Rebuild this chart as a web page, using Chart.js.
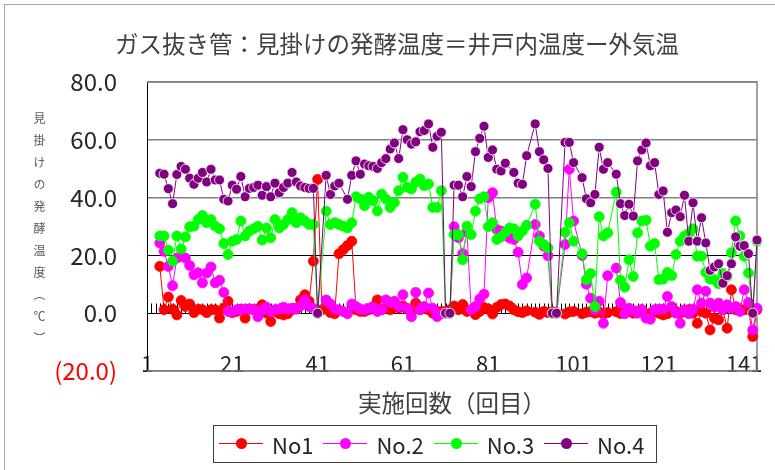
<!DOCTYPE html>
<html>
<head>
<meta charset="utf-8">
<script src="https://cdn.jsdelivr.net/npm/chart.js@4.4.0/dist/chart.umd.min.js"></script>
<style>
  body { margin: 0; background: #fff; }
  #wrap { position: relative; width: 775px; height: 470px; overflow: hidden; }
  #frame { position: absolute; left: 4px; top: 4px; width: 900px; height: 600px; border: 1px solid #a6a6a6; }
  #ytitle { position: absolute; left: 33px; top: 112px; writing-mode: vertical-rl; font: 12px "Noto Sans CJK JP"; line-height: 12px; letter-spacing: 10px; color: #595959; }
  #legend { position: absolute; left: 213px; top: 425px; width: 444px; height: 38px; box-sizing: border-box; border: 1px solid #404040; display: flex; align-items: center; padding-left: 5px; font: 22px "Noto Sans CJK JP"; color: #262626; }
  #legend .item { display: flex; align-items: center; margin-right: 10px; }
  #legend .mark { position: relative; width: 44px; height: 12px; margin-right: 9px; }
  #legend .ln { position: absolute; left: 0; right: 0; top: 5px; height: 1px; }
  #legend .dot { position: absolute; left: 17px; top: 0; width: 11px; height: 11px; border-radius: 50%; }
</style>
</head>
<body>
<div id="wrap">
  <div id="frame"></div>
  <canvas id="chart" width="775" height="470" style="position:absolute;left:0;top:0;width:775px;height:470px"></canvas>
  <div id="ytitle">見掛けの発酵温度（℃）</div>
  <div id="legend"></div>
</div>
<script>
// 実施回数 1..144
const labels = Array.from({ length: 144 }, (_, i) => String(i + 1));
const shownTicks = ['1', '21', '41', '61', '81', '101', '121', '141'];

const no1 = [
  null, null, null, 16.2, 1.2, 5.6, 1.4, -0.6, 4.4, 2.3,
  3.2, 0.2, 1.4, 1.2, 0.2, 1.2, 1.2, -1.7, 1.7, 4.1,
  0.2, 0.6, 1.4, -1.7, 1.4, 1.2, 1.4, 2.9, 0.0, -2.9,
  0.6, -0.2, -0.6, -0.2, 1.2, 1.7, 4.6, 6.4, 4.1, 18.0,
  46.3, 1.2, 1.4, 0.2, -0.2, 20.6, 22.0, 23.4, 24.9, 1.2,
  0.6, 0.6, 1.2, 2.3, 4.6, 1.2, 1.7, 1.2, 2.3, 1.7,
  2.5, 1.4, 0.6, 3.5, 1.2, 1.7, 1.2, 0.0, 0.6, 0.6,
  0.6, 1.2, 2.5, 1.2, 3.0, 0.6, 1.2, -0.5, 0.6, 2.0,
  1.5, -0.3, 2.0, 3.0, 3.2, 2.5, 1.2, 0.5, 0.2, 0.8,
  null, 0.3, -0.4, 0.6, 0.2, 0.5, 0.1, null, -0.3, 0.4,
  0.6, null, -0.2, 0.3, 0.5, 0.0, 0.4, -0.3, 0.2, null,
  0.5, -0.1, 0.3, 0.6, 0.0, 0.6, 1.2, -0.6, 0.0, 0.6,
  0.0, -0.6, -0.2, 0.6, 0.6, 0.0, 0.6, 1.2, 0.0, -3.5,
  0.6, 0.0, -5.8, -1.7, -2.3, 1.2, -5.2, 8.1, 1.2, 1.2,
  1.2, 1.2, -8.1, 1.2
];
const no2 = [
  null, null, null, 24.3, 21.4, 16.2, 9.5, 19.1, 19.7, 19.1,
  16.5, 13.3, 14.0, 10.5, 13.9, 16.0, 10.5, 11.4, 7.2, 0.6,
  0.6, 1.2, 1.2, 1.4, 1.5, 1.2, -1.2, 1.2, 2.1, 0.6,
  1.2, 1.4, 2.1, 1.4, 1.7, 1.4, 2.5, 4.6, 2.3, 1.7,
  0.0, null, 4.6, 3.2, 1.4, 1.2, 0.6, -0.2, 3.2, 2.3,
  1.4, 1.2, 1.7, 2.1, 0.6, 1.2, 4.6, 3.7, 4.1, 2.3,
  6.4, 1.7, -1.2, 7.2, 1.2, 2.3, 7.0, 1.7, -1.2, -0.2,
  0.0, 0.0, 29.9, 26.1, 20.6, 28.0, 1.2, 2.3, 4.9, 6.6,
  40.0, 41.7, 29.0, 28.4, 27.0, 26.0, 25.5, 21.1, 9.9, 12.2,
  null, 30.7, 26.7, 23.2, 19.9, 0.0, 0.0, null, 23.8, 49.8,
  31.9, null, 20.0, 10.0, 5.2, 1.2, 4.1, -3.5, 13.0, null,
  15.6, 3.7, -0.2, 1.7, 0.9, 0.0, 1.2, -1.7, -2.1, 1.2,
  1.4, 1.4, 5.8, 2.3, 0.0, -3.5, 1.2, -0.2, 1.4, 8.1,
  3.5, 7.6, 3.5, 2.1, 3.5, 1.2, 2.9, 1.7, 2.3, 0.6,
  8.1, 3.7, -5.8, 1.7
];
const no3 = [
  null, null, null, 26.7, 26.7, 21.8, 18.0, 26.7, 22.2, 26.4,
  29.9, 30.1, 32.4, 33.8, 31.3, 32.4, 30.1, 29.2, 24.1, 20.3,
  24.9, 25.5, 31.9, 26.7, 28.4, 29.2, 30.1, 25.3, 29.5, 26.1,
  32.4, 29.5, 30.7, 32.4, 34.8, 31.3, 33.0, 31.9, 30.7, 30.7,
  0.0, null, 35.3, 30.7, 31.3, 30.7, 30.1, 29.5, 31.3, 40.3,
  39.5, 37.2, 40.1, 38.9, 35.4, 41.2, 39.5, 36.6, 38.3, 42.4,
  47.0, 43.6, 43.0, 45.3, 46.4, 44.1, 44.7, 36.6, 36.6, 42.4,
  0.0, 0.0, 27.2, 27.2, 18.5, 30.1, 27.2, 35.3, 39.6, 40.3,
  29.9, 31.3, 25.5, 26.4, 28.0, 29.5, 29.2, 26.7, 28.4, 30.4,
  null, 37.7, 24.9, 23.8, 22.6, 0.0, 0.0, null, 28.0, 31.3,
  24.9, null, 20.6, 11.6, 13.7, 2.3, 33.4, 26.7, 27.8, null,
  41.9, 11.4, 9.0, 18.5, 12.7, 27.8, 31.9, 32.2, 23.2, 24.1,
  11.6, 11.8, 14.1, 13.0, 20.3, 24.9, 26.7, 27.6, 29.2, 19.7,
  19.7, 14.1, 11.8, 11.6, 10.2, 13.7, 12.7, 20.9, 31.9, 26.7,
  19.7, 13.9, 0.0, 24.9
];
const no4 = [
  null, null, null, 48.4, 48.1, 43.1, 37.9, 48.0, 50.8, 49.8,
  46.7, 44.6, 46.7, 48.7, 45.4, 49.8, 46.1, 46.1, 39.4, 38.8,
  44.3, 42.9, 47.3, 40.3, 43.2, 43.5, 44.3, 40.8, 43.8, 40.3,
  45.0, 41.7, 43.5, 45.0, 48.7, 45.4, 44.0, 43.5, 43.2, 43.2,
  0.0, null, 47.7, 41.1, 44.0, 45.0, null, 39.4, 47.7, 52.7,
  48.1, 51.6, 51.0, 50.8, 50.1, 52.1, 53.5, 56.8, 58.9, 53.5,
  63.5, 60.0, 58.5, 59.3, 62.8, 63.2, 65.5, 57.4, 61.2, 62.6,
  0.0, 0.0, 44.3, 44.3, 40.3, 47.3, 43.8, 55.9, 60.5, 64.7,
  53.9, 56.5, 49.8, 49.2, 51.9, null, 48.7, 45.0, 44.6, 54.5,
  null, 65.5, 55.9, 53.1, 50.1, 0.0, 0.0, null, 59.1, 59.1,
  52.1, null, 46.9, 39.6, 38.2, 41.1, 57.4, 49.8, 52.1, null,
  48.1, 37.9, 33.8, 37.7, 33.6, 52.7, 56.5, 58.9, 51.0, 52.1,
  41.1, 42.3, 28.0, 34.8, 35.7, 33.4, 40.8, 24.9, 38.2, 24.9,
  33.0, 24.3, 14.8, 16.0, 17.1, 10.4, 13.0, 17.1, 26.4, 23.2,
  23.4, 20.6, 0.0, 25.3
];

Chart.defaults.font.family = '"Noto Sans CJK JP", sans-serif';

// 枠線とゼロ軸の目盛り
const plotFrame = {
  id: 'plotFrame',
  beforeDatasetsDraw(chart) {
    const { ctx, chartArea: a, scales: { x, y } } = chart;
    ctx.save();
    ctx.strokeStyle = '#808080';
    ctx.lineWidth = 1.5;
    ctx.beginPath();
    ctx.moveTo(a.left, a.top);
    ctx.lineTo(a.right, a.top);
    ctx.lineTo(a.right, a.bottom);
    ctx.lineTo(a.left, a.bottom);
    ctx.stroke();
    const y0 = Math.round(y.getPixelForValue(0)) + 0.5;
    ctx.strokeStyle = '#000';
    ctx.lineWidth = 1;
    ctx.beginPath();
    for (let i = 0; i < labels.length; i++) {
      const px = Math.round(x.getPixelForValue(i)) + 0.5;
      ctx.moveTo(px, y0);
      ctx.lineTo(px, y0 - 10);
    }
    ctx.stroke();
    ctx.restore();
  }
};

const htmlLegend = {
  id: 'htmlLegend',
  afterUpdate(chart) {
    const box = document.getElementById('legend');
    box.innerHTML = '';
    chart.data.datasets.forEach(ds => {
      const item = document.createElement('div');
      item.className = 'item';
      item.innerHTML = `<span class="mark"><span class="ln" style="background:${ds.borderColor}"></span>` +
        `<span class="dot" style="background:${ds.backgroundColor}"></span></span><span>${ds.label}</span>`;
      box.appendChild(item);
    });
  }
};

new Chart(document.getElementById('chart'), {
  type: 'line',
  data: {
    labels: labels,
    datasets: [
      { label: 'No1', data: no1, borderColor: '#ff0000', backgroundColor: '#ff0000', pointBorderColor: '#ff0000', order: 4 },
      { label: 'No.2', data: no2, borderColor: '#ff00ff', backgroundColor: '#ff00ff', pointBorderColor: '#ff00ff', order: 3 },
      { label: 'No.3', data: no3, borderColor: '#00ff00', backgroundColor: '#00ff00', pointBorderColor: '#00ff00', order: 2 },
      { label: 'No.4', data: no4, borderColor: '#800080', backgroundColor: '#800080', pointBorderColor: '#ffffff', order: 1 }
    ]
  },
  options: {
    responsive: false,
    animation: false,
    spanGaps: true,
    layout: { padding: { left: 37, right: 18, top: 0, bottom: 0 } },
    elements: {
      line: { borderWidth: 1, tension: 0 },
      point: { radius: 5, borderWidth: 0.8, hoverRadius: 5 }
    },
    plugins: {
      legend: { display: false },
      tooltip: { enabled: false },
      title: {
        display: true,
        text: 'ガス抜き管：見掛けの発酵温度＝井戸内温度ー外気温',
        color: '#404040',
        font: { size: 23.5, weight: 'normal' },
        padding: { top: 30, bottom: 23.8 }
      }
    },
    scales: {
      x: {
        type: 'category',
        offset: false,
        grid: { display: false, drawTicks: false },
        border: { display: false },
        ticks: {
          autoSkip: false,
          maxRotation: 0,
          minRotation: 0,
          mirror: true,
          padding: -6,
          color: '#262626',
          font: { size: 22 },
          callback(value) {
            const l = this.getLabelForValue(value);
            return shownTicks.includes(l) ? l : '';
          }
        },
        title: {
          display: true,
          text: '実施回数（回目）',
          color: '#404040',
          font: { size: 23.5 },
          padding: { top: 0, bottom: 53 }
        },
        afterFit(scale) { scale.height = 99; }
      },
      y: {
        min: -20,
        max: 80,
        ticks: {
          stepSize: 20,
          padding: 30,
          font: { size: 24 },
          color: ctx => ctx.tick.value < 0 ? '#ff0000' : '#262626',
          callback: v => v < 0 ? '(' + Math.abs(v).toFixed(1) + ')' : v.toFixed(1)
        },
        grid: {
          drawTicks: false,
          color: ctx => (ctx.tick.value === 20 || ctx.tick.value === 0) ? '#000000' : '#808080',
          lineWidth: ctx => (ctx.tick.value === 20 || ctx.tick.value === 0) ? 1 : 1.5
        },
        border: { display: true, color: '#000000', width: 1 },
        afterFit(scale) { scale.width = 110; }
      }
    }
  },
  plugins: [plotFrame, htmlLegend]
});
</script>
</body>
</html>
